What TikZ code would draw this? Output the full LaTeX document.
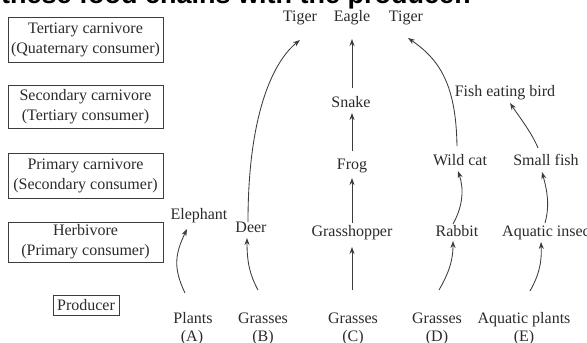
\documentclass[tikz,border=0pt]{standalone}
\usepackage{fontspec}
\setmainfont{Liberation Serif}
\newfontfamily\headfont{Liberation Sans}
\usetikzlibrary{arrows.meta}
\definecolor{ink}{HTML}{2B2B2B}
\definecolor{wire}{HTML}{3C3C3C}
\begin{document}
\begin{tikzpicture}[x=1pt,y=-1pt,
  every node/.style={font=\fontsize{16}{20}\selectfont, text=ink, inner sep=0pt},
  level/.style={draw=wire, line width=0.9pt, align=center, minimum width=155pt},
  organism/.style={anchor=base},
  feeds/.style={draw=wire, line width=0.85pt, -{Stealth[length=7pt,width=5pt]}},
]
\useasboundingbox (0,0) rectangle (587,343);
\clip (0,0) rectangle (587,343);
\fill[white] (0,0) rectangle (587,343);

% heading line, mostly outside the frame
\node[anchor=base west, font=\headfont\bfseries\fontsize{27}{31}\selectfont, text=black]
  (heading) at (1,3.5) {these food chains with the producer.};

% trophic levels
\node[level, minimum height=45pt] (tertiary)  at (85.5,39.5)  {Tertiary carnivore\\(Quaternary consumer)};
\node[level, minimum height=43pt] (secondary) at (85.5,106.5) {Secondary carnivore\\(Tertiary consumer)};
\node[level, minimum height=45pt] (primary)   at (85.5,175.5) {Primary carnivore\\(Secondary consumer)};
\node[level, minimum height=40pt] (herbivore) at (85.5,242)   {Herbivore\\(Primary consumer)};
\node[level, minimum width=66pt, minimum height=20pt] (producer) at (86,305) {Producer};

% organisms
\node[organism] (tigerA)      at (300,21.5) {Tiger};
\node[organism] (eagle)       at (352,21.5) {Eagle};
\node[organism] (tigerB)      at (406,21.5) {Tiger};
\node[organism] (bird)        at (505,96)  {Fish eating bird};
\node[organism] (snake)       at (351,107) {Snake};
\node[organism] (frog)        at (352,169) {Frog};
\node[organism] (wildcat)     at (460,165) {Wild cat};
\node[organism] (smallfish)   at (546,165) {Small fish};
\node[organism] (elephant)    at (199,219) {Elephant};
\node[organism] (deer)        at (251,232) {Deer};
\node[organism] (grasshopper) at (352,236) {Grasshopper};
\node[organism] (rabbit)      at (457,236) {Rabbit};
\node[organism, anchor=base west] (insect) at (502,236) {Aquatic insect};

% producers and chain tags
\node[organism] (plants)   at (193,323) {Plants};
\node[organism] (grassB)   at (263,323) {Grasses};
\node[organism] (grassC)   at (353,323) {Grasses};
\node[organism] (grassD)   at (437,323) {Grasses};
\node[organism] (aqplants) at (524,323) {Aquatic plants};
\node[organism] (tagA) at (192,341) {(A)};
\node[organism] (tagB) at (263,341) {(B)};
\node[organism] (tagC) at (353,341) {(C)};
\node[organism] (tagD) at (437,341) {(D)};
\node[organism] (tagE) at (524,341) {(E)};

% chain A
\draw[feeds] ([xshift=-8pt,yshift=30pt]plants.base)
  .. controls +(-12pt,25pt) and +(-12pt,-25pt) .. ([xshift=-12pt,yshift=-10pt]elephant.base);
% chain B
\draw[feeds] ([xshift=-5pt,yshift=33pt]grassB.base)
  .. controls +(-8pt,15pt) and +(0pt,-25pt) .. ([xshift=-4pt,yshift=-6pt]deer.base);
\draw[feeds] ([xshift=-3pt,yshift=10pt]deer.base)
  .. controls +(0pt,112pt) and +(-25pt,-20pt) .. ([yshift=-18.5pt]tigerA.base);
% chain C
\draw[feeds] ([xshift=-1pt,yshift=33pt]grassC.base) -- ([yshift=-11pt]grasshopper.base);
\draw[feeds] ([yshift=13pt]grasshopper.base) -- ([yshift=-9pt]frog.base);
\draw[feeds] ([yshift=18pt]frog.base) -- ([xshift=1pt,yshift=-6pt]snake.base);
\draw[feeds] ([xshift=1pt,yshift=19pt]snake.base) -- ([yshift=-17.5pt]eagle.base);
% chain D
\draw[feeds] ([xshift=2pt,yshift=33pt]grassD.base)
  .. controls +(8pt,14pt) and +(0pt,-22pt) .. ([xshift=-4pt,yshift=-5pt]rabbit.base);
\draw[feeds] ([xshift=-4pt,yshift=12pt]rabbit.base)
  .. controls +(10pt,18pt) and +(6pt,-18pt) .. ([xshift=-2pt,yshift=-6pt]wildcat.base);
\draw[feeds] ([xshift=-3pt,yshift=19pt]wildcat.base)
  .. controls +(-1pt,61pt) and +(32pt,-22pt) .. ([xshift=2pt,yshift=-16.5pt]tigerB.base);
% chain E
\draw[feeds] ([xshift=6pt,yshift=32pt]aqplants.base)
  .. controls +(8pt,14pt) and +(1pt,-22pt) .. ([xshift=39pt,yshift=-6pt]insect.base west);
\draw[feeds] ([xshift=43pt,yshift=13pt]insect.base west)
  .. controls +(5pt,18pt) and +(5pt,-18pt) .. ([xshift=-4pt,yshift=-7pt]smallfish.base);
\draw[feeds] ([xshift=-8pt,yshift=17pt]smallfish.base)
  .. controls +(-6pt,15pt) and +(8pt,-12pt) .. ([xshift=5pt,yshift=-7pt]bird.base);
\end{tikzpicture}
\end{document}
